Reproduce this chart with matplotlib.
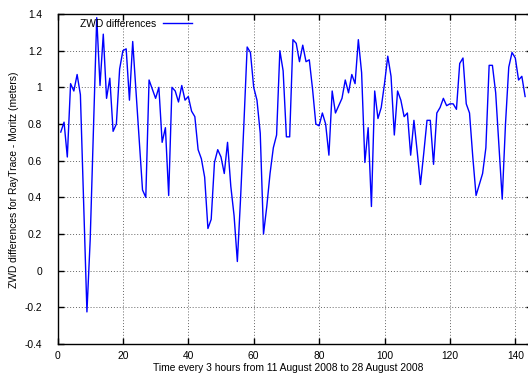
import matplotlib
matplotlib.use("Agg")
import matplotlib.pyplot as plt
import numpy as np

x_values = list(range(1, 144))
zwd_diff = [
    0.756, 0.81, 0.62, 1.02, 0.98, 1.07, 0.96, 0.37, -0.225, 0.17,
    0.78, 1.38, 1.01, 1.29, 0.94, 1.05, 0.76, 0.80, 1.10, 1.20,
    1.21, 0.93, 1.25, 0.98, 0.71, 0.44, 0.40, 1.04, 0.99, 0.94,
    1.00, 0.70, 0.78, 0.41, 1.00, 0.98, 0.92, 1.01, 0.93, 0.95,
    0.87, 0.84, 0.66, 0.61, 0.51, 0.23, 0.28, 0.59, 0.66, 0.62,
    0.53, 0.70, 0.46, 0.30, 0.05, 0.40, 0.80, 1.22, 1.19, 1.00,
    0.93, 0.75, 0.20, 0.35, 0.53, 0.67, 0.74, 1.20, 1.09, 0.73,
    0.73, 1.26, 1.24, 1.14, 1.23, 1.14, 1.15, 0.99, 0.80, 0.79,
    0.86, 0.80, 0.63, 0.98, 0.86, 0.90, 0.94, 1.04, 0.97, 1.07,
    1.02, 1.26, 1.08, 0.59, 0.78, 0.35, 0.98, 0.83, 0.89, 1.02,
    1.17, 1.06, 0.74, 0.98, 0.93, 0.84, 0.86, 0.63, 0.82, 0.65,
    0.47, 0.64, 0.82, 0.82, 0.58, 0.86, 0.89, 0.94, 0.90, 0.91,
    0.91, 0.88, 1.13, 1.16, 0.91, 0.86, 0.62, 0.41, 0.47, 0.53,
    0.67, 1.12, 1.12, 0.97, 0.68, 0.39, 0.80, 1.11, 1.19, 1.16,
    1.04, 1.06, 0.95,
]
x_ticks = [0, 20, 40, 60, 80, 100, 120, 140]
y_ticks = [-0.4, -0.2, 0, 0.2, 0.4, 0.6, 0.8, 1, 1.2, 1.4]
y_tick_labels = ["-0.4", "-0.2", "0", "0.2", "0.4", "0.6", "0.8", "1", "1.2", "1.4"]
series_label = "ZWD differences"
x_label = "Time every 3 hours from 11 August 2008 to 28 August 2008"
y_label = "ZWD differences for RayTrace - Moritz (meters)"

plt.rcParams['font.family'] = ['Liberation Sans', 'DejaVu Sans']
fs = 7.4

W, H = 528, 376
fig = plt.figure(figsize=(W / 100, H / 100), dpi=100)
left_px, top_px, bottom_px = 57.5, 14, 344
xmax = 145
px_per_unit = 3.27
ax = fig.add_axes([left_px / W, (H - bottom_px) / H,
                   xmax * px_per_unit / W, (bottom_px - top_px) / H])

line, = ax.plot(x_values, zwd_diff, color='#0000ff', lw=1.0, label=series_label)

ax.set_xlim(0, xmax)
ax.set_ylim(-0.4, 1.4)
ax.set_xticks(x_ticks)
ax.set_yticks(y_ticks)
ax.set_yticklabels(y_tick_labels)
ax.tick_params(direction='in', length=4, width=1, top=True, right=True,
               labelsize=fs, pad=6, colors='black')
ax.tick_params(axis='y', pad=11)
ax.tick_params(axis='x', pad=5)
ax.grid(True, color='#666666', linestyle=(0, (1, 2)), linewidth=0.7)
for s in ax.spines.values():
    s.set_linewidth(1.0)
    s.set_color('black')

fig.text(14 / W, 1 - 180 / H, y_label, rotation=90, ha='center', va='center',
         fontsize=fs)
fig.text((57.5 + 140 * px_per_unit / 2 + 2) / W, 1 - 368 / H, x_label,
         ha='center', va='center', fontsize=fs)

leg = ax.legend(handles=[line], loc='center left',
                bbox_to_anchor=(80 / W, 1 - 24 / H), bbox_transform=fig.transFigure,
                frameon=False, markerfirst=False, fontsize=fs,
                handlelength=2.8, handletextpad=0.7, borderpad=0,
                borderaxespad=0)

fig.savefig("out.png", dpi=100)
